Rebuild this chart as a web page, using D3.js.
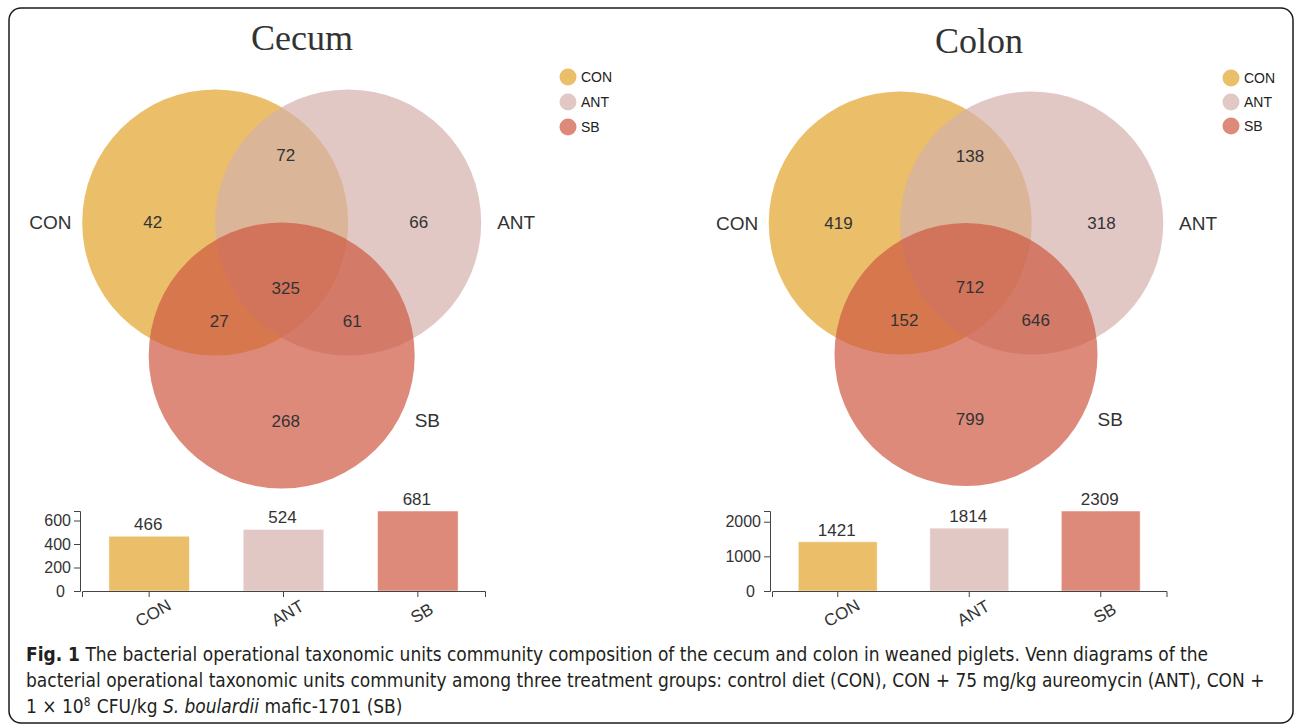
<!DOCTYPE html>
<html>
<head>
<meta charset="utf-8">
<script src="https://cdn.jsdelivr.net/npm/d3@7"></script>
<style>
  body { margin: 0; background: #fff; }
  svg { display: block; }
</style>
</head>
<body>
<script>
// data

const groups = ['CON', 'ANT', 'SB'];
const barColors = ['#EBBE6A', '#E1C8C5', '#DD8A7A'];
// venn circles are drawn at 0.7 opacity, these mix to barColors on white
const vennColors = ['#E2A22A', '#D4B0AC', '#CE5841'];

// regions: CON only, ANT only, SB only, CON&ANT, CON&SB, ANT&SB, all three
const regionKeys = ['A', 'B', 'C', 'AB', 'AC', 'BC', 'ABC'];
const cecumRegions = [42, 66, 268, 72, 27, 61, 325];
const colonRegions = [419, 318, 799, 138, 152, 646, 712];

const cecumTotals = [466, 524, 681];
const colonTotals = [1421, 1814, 2309];

const cecumTicks = [0, 200, 400, 600];
const colonTicks = [0, 1000, 2000];

const captionLines = [
  'The bacterial operational taxonomic units community composition of the cecum and colon in weaned piglets. Venn diagrams of the',
  'bacterial operational taxonomic units community among three treatment groups: control diet (CON), CON + 75 mg/kg aureomycin (ANT), CON +'
];
// last caption line, piece by piece: [text, style]
const captionLast = [
  ['1 \u00d7 10', ''],
  ['8', 'sup'],
  ['\u00a0CFU/kg\u00a0', ''],
  ['S. boulardii', 'italic'],
  ['\u00a0mafic-1701 (SB)', '']
];

// layout (unit-circle positions, r = 1)
const circleUnits = [[-0.5, 0], [0.5, 0], [0, 1]];
const regionUnits = {
  A: [-0.97, 0], B: [1.03, 0], C: [0.03, 1.49],
  AB: [0.03, -0.51], AC: [-0.47, 0.74], BC: [0.53, 0.74], ABC: [0.03, 0.49]
};
const setLabelUnits = [
  { pos: [-1.58, 0], anchor: 'end' },
  { pos: [1.62, 0], anchor: 'start' },
  { pos: [1.0, 1.49], anchor: 'start' }
];

const W = 1295;
const H = 728;
const sans = '"Liberation Sans", Arial, sans-serif';
const ink = '#333';

const svg = d3.select('body').append('svg')
  .attr('width', W)
  .attr('height', H);

svg.append('rect')
  .attr('x', 9).attr('y', 8)
  .attr('width', 1284).attr('height', 715)
  .attr('rx', 12)
  .attr('fill', 'none')
  .attr('stroke', '#1b1b1b')
  .attr('stroke-width', 1.5);

const drawVenn = (g, regions, { cx, cy, r }) => {
  const sx = d3.scaleLinear().domain([0, 1]).range([cx, cx + r]);
  const sy = d3.scaleLinear().domain([0, 1]).range([cy, cy + r]);

  g.selectAll('circle.set')
    .data(circleUnits)
    .join('circle')
    .attr('class', 'set')
    .attr('cx', d => sx(d[0]))
    .attr('cy', d => sy(d[1]))
    .attr('r', sx(1) - sx(0))
    .attr('fill', (d, i) => vennColors[i])
    .attr('fill-opacity', 0.7);

  g.selectAll('text.region')
    .data(regionKeys.map((k, i) => ({ k, v: regions[i] })))
    .join('text')
    .attr('class', 'region')
    .attr('x', d => sx(regionUnits[d.k][0]))
    .attr('y', d => sy(regionUnits[d.k][1]))
    .attr('dy', '0.35em')
    .attr('text-anchor', 'middle')
    .attr('font-family', sans)
    .attr('font-size', 17)
    .attr('fill', ink)
    .text(d => d.v);

  g.selectAll('text.setlabel')
    .data(groups)
    .join('text')
    .attr('class', 'setlabel')
    .attr('x', (d, i) => sx(setLabelUnits[i].pos[0]))
    .attr('y', (d, i) => sy(setLabelUnits[i].pos[1]))
    .attr('dy', '0.35em')
    .attr('text-anchor', (d, i) => setLabelUnits[i].anchor)
    .attr('font-family', sans)
    .attr('font-size', 19)
    .attr('fill', ink)
    .text(d => d);
};

const drawLegend = (g, { x, y, step }) => {
  const item = g.selectAll('g.item')
    .data(groups)
    .join('g')
    .attr('class', 'item')
    .attr('transform', (d, i) => `translate(${x},${y + i * step})`);
  item.append('circle')
    .attr('r', 8.5)
    .attr('fill', (d, i) => barColors[i]);
  item.append('text')
    .attr('x', 13)
    .attr('dy', '0.35em')
    .attr('font-family', sans)
    .attr('font-size', 14)
    .attr('fill', '#222')
    .text(d => d);
};

const drawBars = (g, totals, ticks, { x0, x1, top, bottom }) => {
  const x = d3.scaleBand()
    .domain(groups)
    .range([x0 + 2, x1])
    .paddingInner(0.4)
    .paddingOuter(0.2);
  const y = d3.scaleLinear()
    .domain([0, d3.max(totals)])
    .range([bottom, top]);

  g.selectAll('rect.bar')
    .data(totals)
    .join('rect')
    .attr('class', 'bar')
    .attr('x', (d, i) => x(groups[i]))
    .attr('y', d => y(d))
    .attr('width', x.bandwidth())
    .attr('height', d => y(0) - y(d))
    .attr('fill', (d, i) => barColors[i])
    .attr('stroke', '#fff')
    .attr('stroke-opacity', 0.5);

  g.selectAll('text.value')
    .data(totals)
    .join('text')
    .attr('class', 'value')
    .attr('x', (d, i) => x(groups[i]) + x.bandwidth() / 2 - 1)
    .attr('y', d => y(d) - 6)
    .attr('text-anchor', 'middle')
    .attr('font-family', sans)
    .attr('font-size', 17)
    .attr('fill', ink)
    .text(d => d);

  const yAxis = g.append('g')
    .attr('transform', `translate(${x0},0)`)
    .call(d3.axisLeft(y).tickValues(ticks).tickFormat(d3.format('d')).tickSize(6).tickPadding(3));

  const xAxis = g.append('g')
    .attr('transform', `translate(0,${bottom})`)
    .call(d3.axisBottom(x).tickSize(6).tickSizeOuter(6));

  [yAxis, xAxis].forEach(a => {
    a.selectAll('path, line').attr('stroke', '#444');
    a.selectAll('text')
      .attr('font-family', sans)
      .attr('font-size', 16)
      .attr('fill', ink);
  });

  // the 0 label sits a bit further out in the original
  yAxis.selectAll('.tick text').filter(d => d === 0).attr('dx', -6);

  xAxis.selectAll('.tick text')
    .attr('x', 0)
    .attr('y', 0)
    .attr('dy', '0.35em')
    .attr('font-size', 17)
    .attr('text-anchor', 'middle')
    .attr('transform', 'translate(4,22) rotate(-30)');
};

const drawTitle = (g, text, { x, y }) => {
  g.append('text')
    .attr('x', x)
    .attr('y', y)
    .attr('text-anchor', 'middle')
    .attr('font-family', '"Liberation Serif", "Times New Roman", serif')
    .attr('font-size', 36)
    .attr('fill', ink)
    .text(text);
};

// cecum panel
const cecum = svg.append('g');
drawTitle(cecum, 'Cecum', { x: 302, y: 50 });
drawVenn(cecum, cecumRegions, { cx: 281.7, cy: 222.5, r: 133 });
drawLegend(cecum, { x: 568, y: 77, step: 25 });
drawBars(cecum, cecumTotals, cecumTicks, { x0: 80, x1: 485, top: 511, bottom: 591 });

// colon panel
const colon = svg.append('g');
drawTitle(colon, 'Colon', { x: 979, y: 53 });
drawVenn(colon, colonRegions, { cx: 966, cy: 223, r: 131.5 });
drawLegend(colon, { x: 1231, y: 78, step: 24 });
drawBars(colon, colonTotals, colonTicks, { x0: 770, x1: 1166.5, top: 511, bottom: 591 });

// caption
// pick a font size so that the second (longest) line fills its width
const capFont = '"DejaVu Sans Condensed", "Liberation Sans Narrow", "Open Sans", sans-serif';
const capX = 26;
const cap = svg.append('g')
  .attr('font-family', capFont)
  .attr('fill', '#231F20');

const probe = cap.append('text').attr('font-size', 18).text(captionLines[1]);
const capSize = 18 * 1239 / probe.node().getComputedTextLength();
probe.remove();
cap.attr('font-size', capSize);

const line1 = cap.append('text')
  .attr('x', capX).attr('y', 661);
line1.append('tspan').attr('font-weight', 'bold').text('Fig. 1');
line1.append('tspan').text(' ' + captionLines[0]);

cap.append('text')
  .attr('x', capX).attr('y', 687)
  .text(captionLines[1]);

let cursor = capX;
captionLast.forEach(([t, style]) => {
  const piece = cap.append('text')
    .attr('x', cursor)
    .attr('y', style === 'sup' ? 706 : 713)
    .text(t);
  if (style === 'sup') piece.attr('font-size', capSize * 0.62);
  if (style === 'italic') piece.attr('font-style', 'italic');
  cursor += piece.node().getComputedTextLength() + (style === 'sup' ? 1 : 0);
});
</script>
</body>
</html>
